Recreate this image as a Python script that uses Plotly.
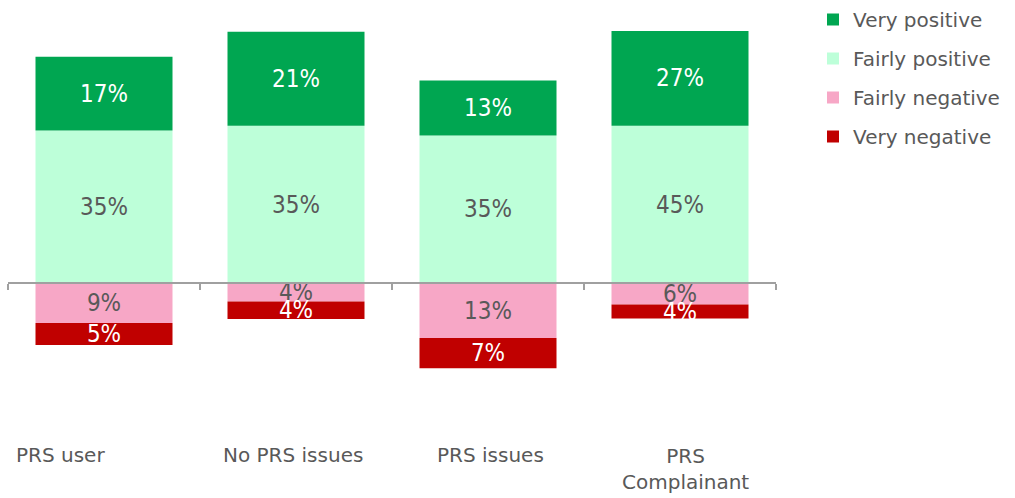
import plotly.graph_objects as go

# ---- data ----
categories = ["PRS user", "No PRS issues", "PRS issues", "PRS Complainant"]
category_text = ["PRS user", "No PRS issues", "PRS issues", "PRS<br>Complainant"]

# bar lengths as drawn in the picture (percentage points)
very_positive = [17.0, 21.6, 12.6, 21.8]
fairly_positive = [35.1, 36.2, 34.0, 36.2]
fairly_negative = [9.1, 4.2, 12.6, 4.9]
very_negative = [5.1, 4.0, 6.9, 3.2]

# data labels printed on the bars
very_positive_lbl = [17, 21, 13, 27]
fairly_positive_lbl = [35, 35, 35, 45]
fairly_negative_lbl = [9, 4, 13, 6]
very_negative_lbl = [5, 4, 7, 4]

# ---- styling ----
W, H = 1015, 498
zero_px = 283.3          # pixel row of the zero line
px_per_unit = 4.35
y_max = zero_px / px_per_unit
y_min = -(H - zero_px) / px_per_unit
label_shift = [-44, -3, 2, 5]

GREY = "#595959"
LABEL_FONT = "Liberation Sans Narrow, DejaVu Sans Condensed, sans-serif"
TEXT_FONT = "DejaVu Sans, Verdana, sans-serif"

fig = go.Figure()

def add(name, vals, lbls, color, txtcolor, rank, sign=1):
    fig.add_trace(go.Bar(
        name=name,
        x=categories,
        y=[sign * v for v in vals],
        text=[f"{l}%" for l in lbls],
        textposition="inside",
        insidetextanchor="middle",
        textangle=0,
        constraintext="none",
        insidetextfont=dict(family=LABEL_FONT, size=24, color=txtcolor),
        marker=dict(color=color, line=dict(width=0)),
        legendrank=rank,
        legendgroup=name,
        hoverinfo="skip",
    ))

add("Fairly positive", fairly_positive, fairly_positive_lbl, "#BDFFD9", GREY, 2)
add("Very positive", very_positive, very_positive_lbl, "#00A651", "#FFFFFF", 1)
add("Fairly negative", fairly_negative, fairly_negative_lbl, "#F7A7C6", GREY, 3, -1)
add("Very negative", very_negative, very_negative_lbl, "#C00000", "#FFFFFF", 4, -1)

annotations = []
for cat, txt, dx in zip(categories, category_text, label_shift):
    annotations.append(dict(
        x=cat, xref="x", y=1 - 468.5 / H if "<br>" in txt else 1 - 455 / H,
        yref="paper", text=txt, showarrow=False, xshift=dx,
        xanchor="center", yanchor="middle",
        font=dict(family=TEXT_FONT, size=20, color=GREY),
    ))

fig.update_layout(
    width=W, height=H,
    barmode="relative",
    bargap=55 / 192,
    plot_bgcolor="white", paper_bgcolor="white",
    margin=dict(l=8, r=W - 776, t=0, b=0),
    xaxis=dict(
        type="category", range=[-0.5, 3.5],
        anchor="free", position=(0 - y_min) / (y_max - y_min),
        showline=True, linecolor="#A0A0A0", linewidth=1.5,
        ticks="outside", tickson="boundaries", ticklen=6,
        tickcolor="#A0A0A0", tickwidth=1.5,
        showticklabels=False, showgrid=False, zeroline=False,
        layer="above traces", fixedrange=True,
    ),
    yaxis=dict(range=[y_min, y_max], visible=False, showgrid=False,
               zeroline=False, fixedrange=True),
    legend=dict(
        x=(813 - 8) / 768, xanchor="left",
        y=1, yanchor="top",
        font=dict(family=TEXT_FONT, size=20, color=GREY),
        tracegroupgap=10, bgcolor="rgba(0,0,0,0)",
    ),
    annotations=annotations,
    showlegend=True,
)

fig.write_html(
    "out.html",
    config={"displayModeBar": False},
    post_script="document.body.style.margin='0';document.body.style.overflow='hidden';",
)
